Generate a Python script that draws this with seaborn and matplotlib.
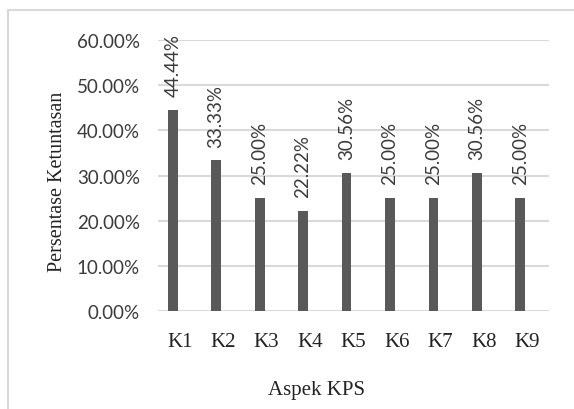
import numpy as np
import pandas as pd
import seaborn as sns
import matplotlib.pyplot as plt
from matplotlib.patches import Rectangle

# data
aspek = ['K1', 'K2', 'K3', 'K4', 'K5', 'K6', 'K7', 'K8', 'K9']
persen = [44.44, 33.33, 25.00, 22.22, 30.56, 25.00, 25.00, 30.56, 25.00]
yticks = [0, 10, 20, 30, 40, 50, 60]

# excel chart has an empty second series -> bars sit left of the category centre
df = pd.DataFrame({'aspek': aspek * 2,
                   'nilai': persen + [0] * len(aspek),
                   'seri': ['a'] * len(aspek) + ['b'] * len(aspek)})

sns.set_style('white')
plt.rcParams['font.family'] = ['Lato', 'DejaVu Sans']

fig = plt.figure(figsize=(5.74, 4.10), dpi=100)
ax = fig.add_axes([158 / 574, 1 - 312 / 410, 391 / 574, 271 / 410])

sns.barplot(data=df, x='aspek', y='nilai', hue='seri', hue_order=['a', 'b'],
            palette=['#595959', '#595959'], width=0.64, gap=0.3, dodge=True,
            linewidth=0, legend=False, ax=ax)
for p in ax.containers[1]:
    p.set_visible(False)

ax.bar_label(ax.containers[0], labels=[f'{v:.2f}%' for v in persen],
             rotation=90, padding=10, fontsize=13.5, color='#3a3a3a')

ax.set_ylim(0, 60)
ax.set_yticks(yticks)
ax.set_yticklabels([f'{v:.2f}%' for v in yticks], fontsize=13.5, color='#3a3a3a')
ax.set_xticks(range(len(aspek)))
ax.set_xticklabels(aspek, family='Liberation Serif', fontsize=15, color='#222222')
ax.tick_params(axis='y', length=0, pad=13)
ax.tick_params(axis='x', length=0, pad=15)
ax.grid(axis='y', color='#d9d9d9', lw=1.5)
ax.set_axisbelow(True)
for s in ax.spines.values():
    s.set_visible(False)

ax.set_xlabel('Aspek KPS', family='Liberation Serif', fontsize=15, color='#222222')
ax.xaxis.set_label_coords((317 - 158) / 391, (312 - 391) / 271)
ax.xaxis.label.set_va('center')
ax.set_ylabel('Persentase Ketuntasan', family='Liberation Serif', fontsize=14.5,
              color='#222222')
ax.yaxis.set_label_coords((58 - 158) / 391, 0.48)
ax.yaxis.label.set_va('center')

# chart area frame
fig.patches.append(Rectangle((8 / 574, -0.2), 1.2, 1.2 - 11 / 410,
                             transform=fig.transFigure, fill=False,
                             edgecolor='#d9d9d9', lw=1.5))

fig.savefig('out.png', dpi=100)
